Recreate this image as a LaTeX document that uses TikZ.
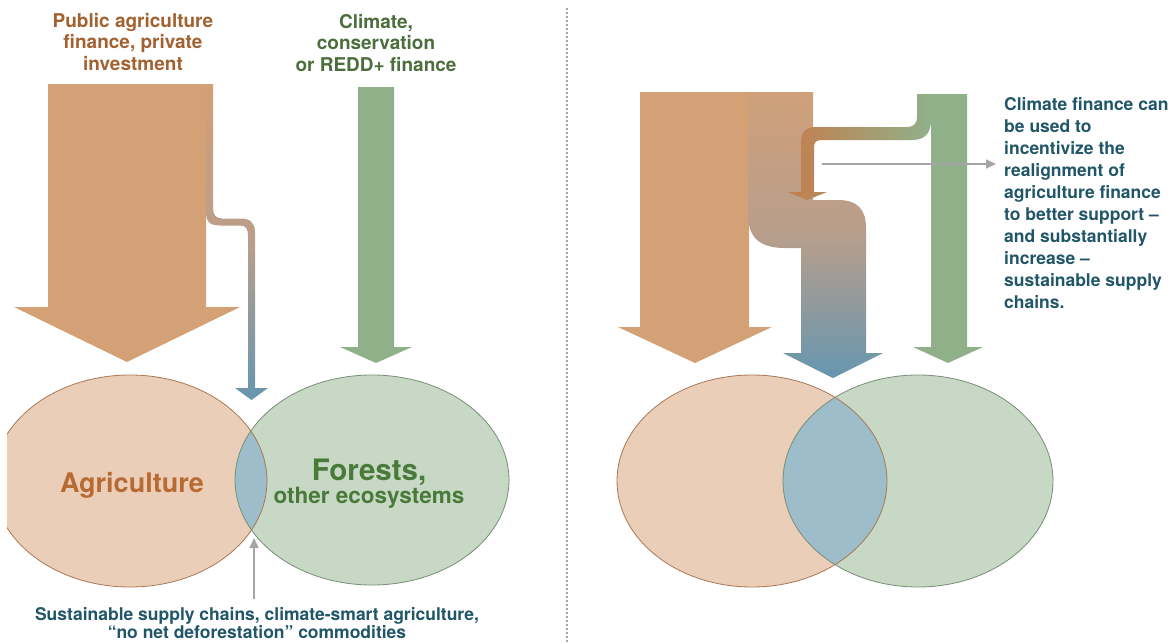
\documentclass[tikz,border=0pt]{standalone}
\usepackage{fontspec}
\setmainfont{TeX Gyre Heros}
\usepackage{tikz}
\usetikzlibrary{arrows.meta}
\usepackage{xcolor}
\definecolor{agriflow}{RGB}{212,160,117}
\definecolor{pipetop}{RGB}{207,160,122}
\definecolor{midflow}{RGB}{184,158,140}
\definecolor{overlapflow}{RGB}{102,150,175}
\definecolor{climflow}{RGB}{144,176,138}
\definecolor{hookorange}{RGB}{196,126,78}
\definecolor{agrifill}{RGB}{235,206,184}
\definecolor{agriline}{RGB}{168,120,86}
\definecolor{forestfill}{RGB}{199,217,197}
\definecolor{forestline}{RGB}{120,142,120}
\definecolor{overlap}{RGB}{157,189,202}
\definecolor{agritext}{RGB}{163,97,48}
\definecolor{agrilabel}{RGB}{184,106,51}
\definecolor{climtext}{RGB}{76,110,60}
\definecolor{forestlabel}{RGB}{74,122,58}
\definecolor{chaintext}{RGB}{32,86,104}
\definecolor{pointergray}{RGB}{165,165,165}

\begin{document}
\begin{tikzpicture}[x=1pt, y=-1pt,
  agri/.style={fill=agrifill},
  forest/.style={fill=forestfill},
  rim/.style={line width=0.8pt},
  pointer/.style={-{Triangle[length=10pt, width=9pt]}, line width=1.6pt, draw=pointergray},
  head/.style={font=\fontsize{19}{21.5}\selectfont\bfseries, align=center, inner sep=0pt},
  label/.style={inner sep=0pt, anchor=base},
  note/.style={font=\fontsize{17.5}{22}\selectfont\bfseries, text=chaintext, align=left, inner sep=0pt}
]
\useasboundingbox (0,0) rectangle (1172,643);

% left panel: two sectors and their overlap
\begin{scope}
  \clip (7,360) rectangle (560,600);
  \fill[agri] (130,481) ellipse [x radius=137pt, y radius=106pt];
  \fill[forest] (372,480) ellipse [x radius=137pt, y radius=105pt];
  \begin{scope}
    \clip (130,481) ellipse [x radius=137pt, y radius=106pt];
    \fill[overlap] (372,480) ellipse [x radius=137pt, y radius=105pt];
  \end{scope}
  \draw[rim, agriline] (130,481) ellipse [x radius=137pt, y radius=106pt];
  \draw[rim, forestline] (372,480) ellipse [x radius=137pt, y radius=105pt];
\end{scope}

\fill[agriflow] (48,84) -- (206,84) -- (206,307) -- (240,307) -- (127,362) -- (14,307) -- (48,307) -- cycle;
\shade[top color=agriflow, bottom color=overlapflow, middle color=midflow]
  (206,84) -- (206,212) .. controls (206,222) and (210,225.5) .. (220,225.5) -- (240,225.5)
  .. controls (246,225.5) and (248,229) .. (248,236) -- (248,388) -- (235,388) -- (251.5,400)
  -- (268,388) -- (255,388) -- (255,232) .. controls (255,223) and (250,218.5) .. (241,218.5)
  -- (222,218.5) .. controls (216,218.5) and (213,215) .. (213,208) -- (213,84) -- cycle;
\fill[climflow] (358,87) -- (394,87) -- (394,347) -- (412,347) -- (376,363) -- (340,347) -- (358,347) -- cycle;

\node[head, text=agritext, anchor=north] (pubfin) at (133,13) {Public agriculture\\finance, private\\investment};
\node[head, text=climtext, anchor=north] (climfin) at (376,14) {Climate,\\conservation\\or REDD+ finance};
\node[label, text=agrilabel, font=\fontsize{27}{27}\selectfont\bfseries] (agriname) at (132,492) {Agriculture};
\node[label, text=forestlabel, font=\fontsize{29.5}{29.5}\selectfont\bfseries] (forestname) at (369,480) {Forests,};
\node[label, text=forestlabel, font=\fontsize{22.5}{22.5}\selectfont\bfseries] (forestsub) at (369,503) {other ecosystems};
\node[font=\fontsize{17.5}{18}\selectfont\bfseries, text=chaintext, align=center, inner sep=0pt, anchor=north] (chains) at (257,607)
  {Sustainable supply chains, climate-smart agriculture,\\“no net deforestation” commodities};

\coordinate (lenstip) at (254,538);
\draw[pointer] (lenstip |- chains.north) ++(0,-8) -- (lenstip);

\draw[pointergray, line width=1.5pt, dash pattern=on 2pt off 2pt] (567,8) -- (567,643);

% right panel: realigned flows
\fill[agri] (752,481) ellipse [x radius=135pt, y radius=106pt];
\fill[forest] (918,481) ellipse [x radius=135pt, y radius=106pt];
\begin{scope}
  \clip (752,481) ellipse [x radius=135pt, y radius=106pt];
  \fill[overlap] (918,481) ellipse [x radius=135pt, y radius=106pt];
\end{scope}
\draw[rim, agriline] (752,481) ellipse [x radius=135pt, y radius=106pt];
\draw[rim, forestline] (918,481) ellipse [x radius=135pt, y radius=106pt];

\fill[agriflow] (640,92) -- (749,92) -- (749,327) -- (772,327) -- (695,363) -- (618,327) -- (640,327) -- cycle;
\shade[top color=pipetop, bottom color=overlapflow, middle color=midflow]
  (748,92) -- (748,214) .. controls (748,238) and (760,248) .. (785,248) -- (801,248) -- (801,353)
  -- (783,353) -- (833,378) -- (883,353) -- (866,353) -- (866,228) .. controls (866,210) and (858,200) .. (838,200)
  -- (813,200) -- (813,92) -- cycle;
\fill[climflow] (931,94) -- (967,94) -- (967,347) -- (983,347) -- (948,363) -- (913,347) -- (931,347) -- cycle;
\shade[left color=hookorange, right color=climflow]
  (917,94) -- (917,116) .. controls (917,124) and (914,127) .. (906,127) -- (816,127)
  .. controls (806,127) and (801,132) .. (801,142) -- (801,192) -- (788,192) -- (807,200)
  -- (827,192) -- (814,192) -- (814,148) .. controls (814,142) and (816,140) .. (822,140)
  -- (912,140) .. controls (925,140) and (931,133) .. (931,120) -- (931,94) -- cycle;

\node[note, anchor=north west] (realign) at (1004,97)
  {Climate finance can\\be used to\\incentivize the\\realignment of\\agriculture finance\\to better support --\\and substantially\\increase --\\sustainable supply\\chains.};

\coordinate (jog) at (822,164);
\draw[pointer, shorten >=8pt] (jog) -- (jog -| realign.west);
\end{tikzpicture}
\end{document}
